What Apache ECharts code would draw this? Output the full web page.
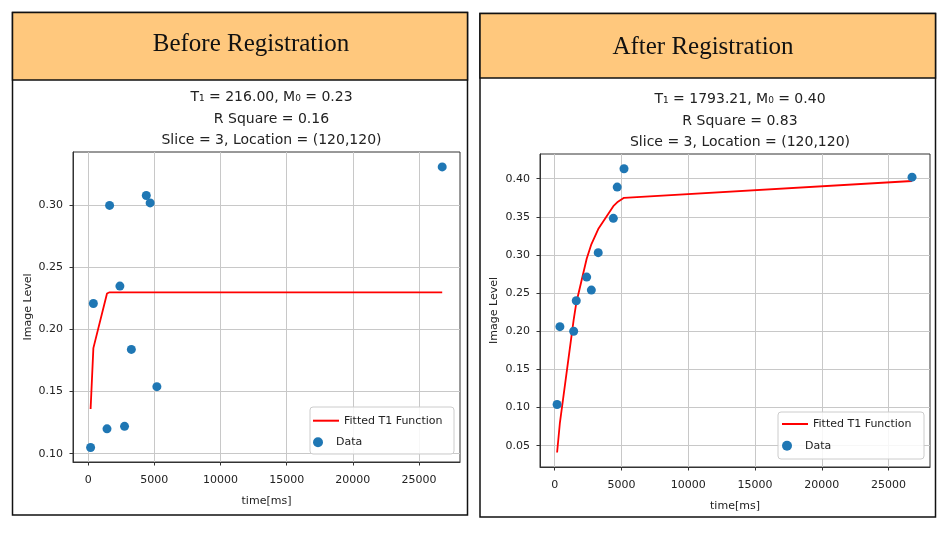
<!DOCTYPE html>
<html>
<head>
<meta charset="utf-8">
<script src="https://cdn.jsdelivr.net/npm/echarts@6/dist/echarts.min.js"></script>
<style>html,body{margin:0;padding:0;background:#fff}#c{width:950px;height:536px}</style>
</head>
<body>
<div id="c"></div>
<script>
// ---- data ----
const timesMs = [180, 390, 1420, 1615, 2395, 2745, 3260, 4390, 4680, 5190, 26755];
const beforeData = [0.105, 0.221, 0.120, 0.300, 0.235, 0.122, 0.184, 0.308, 0.302, 0.154, 0.331];
const beforeFit  = [0.136, 0.185, 0.229, 0.230, 0.230, 0.230, 0.230, 0.230, 0.230, 0.230, 0.230];
const afterData  = [0.104, 0.206, 0.200, 0.240, 0.271, 0.254, 0.303, 0.348, 0.389, 0.413, 0.402];
const afterFit   = [0.041, 0.080, 0.215, 0.237, 0.295, 0.314, 0.334, 0.364, 0.369, 0.375, 0.397];
const xTicks = [0, 5000, 10000, 15000, 20000, 25000];
const yTicksBefore = [0.10, 0.15, 0.20, 0.25, 0.30];
const yTicksAfter = [0.05, 0.10, 0.15, 0.20, 0.25, 0.30, 0.35, 0.40];
const panelTitles = ['Before Registration', 'After Registration'];
const chartTitles = [
  'T\u2081 = 216.00, M\u2080 = 0.23\nR Square = 0.16\nSlice = 3, Location = (120,120)',
  'T\u2081 = 1793.21, M\u2080 = 0.40\nR Square = 0.83\nSlice = 3, Location = (120,120)'
];
const legendNames = ['Fitted T1 Function', 'Data'];

const pair = (xs, ys) => xs.map((x, i) => [x, ys[i]]);
const FONT = '"DejaVu Sans", sans-serif';
const TXT = '#222';

function xAxis(gi, min, max) {
  return {
    type: 'value', gridIndex: gi, min: min, max: max, splitNumber: 5,
    name: 'time[ms]', nameLocation: 'middle', nameGap: 34,
    nameTextStyle: { fontFamily: FONT, fontSize: 11, color: TXT },
    axisLine: { show: true, onZero: false, lineStyle: { color: '#333', width: 1 } },
    axisTick: { show: true, length: 3.5, lineStyle: { color: '#333' }, customValues: xTicks },
    axisLabel: { customValues: xTicks, margin: 13, fontFamily: FONT, fontSize: 11, color: TXT,
      formatter: v => String(v) },
    splitLine: { show: true, lineStyle: { color: '#c8c8c8', width: 1 } }
  };
}
function yAxis(gi, min, max, ticks, split, gap) {
  return {
    type: 'value', gridIndex: gi, min: min, max: max, splitNumber: split,
    name: 'Image Level', nameLocation: 'middle', nameGap: gap,
    nameTextStyle: { fontFamily: FONT, fontSize: 11, color: TXT },
    axisLine: { show: true, onZero: false, lineStyle: { color: '#333', width: 1 } },
    axisTick: { show: true, length: 3.5, lineStyle: { color: '#333' }, customValues: ticks },
    axisLabel: { customValues: ticks, margin: 10, fontFamily: FONT, fontSize: 11, color: TXT,
      formatter: v => v.toFixed(2) },
    splitLine: { show: true, lineStyle: { color: '#c8c8c8', width: 1 } }
  };
}
function legendItem(name, icon, h, left, cy) {
  return {
    data: [{ name: name, icon: icon }], orient: 'vertical', left: left, top: cy - 7,
    itemWidth: 26, itemHeight: h, padding: 0, selectedMode: false, z: 10,
    textStyle: { fontFamily: FONT, fontSize: 11, color: TXT, lineHeight: 14 }
  };
}

const chart = echarts.init(document.getElementById('c'), null, { renderer: 'canvas' });
chart.setOption({
  animation: false,
  backgroundColor: '#fff',
  graphic: [
    { type: 'rect', z: -1, shape: { x: 12.5, y: 12.5, width: 455, height: 502.5 },
      style: { fill: '#fff', stroke: '#111', lineWidth: 1.5 } },
    { type: 'rect', z: 0, shape: { x: 12.5, y: 12.5, width: 455, height: 67.5 },
      style: { fill: '#FFC87D', stroke: '#111', lineWidth: 1.5 } },
    { type: 'text', z: 1, style: { x: 251, y: 44, text: panelTitles[0], fill: '#111',
      font: '25px "Liberation Serif", serif', align: 'center', verticalAlign: 'middle' } },
    { type: 'rect', z: -1, shape: { x: 480, y: 13.5, width: 455.5, height: 503.5 },
      style: { fill: '#fff', stroke: '#111', lineWidth: 1.5 } },
    { type: 'rect', z: 0, shape: { x: 480, y: 13.5, width: 455.5, height: 64.5 },
      style: { fill: '#FFC87D', stroke: '#111', lineWidth: 1.5 } },
    { type: 'text', z: 1, style: { x: 703, y: 47, text: panelTitles[1], fill: '#111',
      font: '25px "Liberation Serif", serif', align: 'center', verticalAlign: 'middle' } },
    // legend frames
    { type: 'rect', z: 5, shape: { x: 310, y: 407, width: 144, height: 47, r: 3 },
      style: { fill: 'rgba(255,255,255,0.85)', stroke: '#cccccc', lineWidth: 1 } },
    { type: 'rect', z: 5, shape: { x: 778, y: 412, width: 146, height: 47, r: 3 },
      style: { fill: 'rgba(255,255,255,0.85)', stroke: '#cccccc', lineWidth: 1 } }
  ],
  title: [
    { text: chartTitles[0], left: 266.5, top: 81.5, textAlign: 'center',
      textStyle: { fontFamily: FONT, fontSize: 14, fontWeight: 'normal', color: TXT, lineHeight: 21.7 } },
    { text: chartTitles[1], left: 735, top: 83.5, textAlign: 'center',
      textStyle: { fontFamily: FONT, fontSize: 14, fontWeight: 'normal', color: TXT, lineHeight: 21.7 } }
  ],
  grid: [
    { left: 73, top: 152, width: 387, height: 310, show: true, borderColor: '#333', borderWidth: 1, backgroundColor: '#fff' },
    { left: 540, top: 154, width: 390, height: 313, show: true, borderColor: '#333', borderWidth: 1, backgroundColor: '#fff' }
  ],
  xAxis: [xAxis(0, -1150, 28100), xAxis(1, -1100, 28100)],
  yAxis: [yAxis(0, 0.0933, 0.343, yTicksBefore, 5, 39), yAxis(1, 0.022, 0.4324, yTicksAfter, 8, 40)],
  legend: [
    legendItem(legendNames[0], 'rect', 2, 313, 420.7),
    legendItem(legendNames[1], 'circle', 10, 313, 442.3),
    legendItem(legendNames[0], 'rect', 2, 782, 424),
    legendItem(legendNames[1], 'circle', 10, 782, 445.7)
  ],
  series: [
    { name: legendNames[0], type: 'line', xAxisIndex: 0, yAxisIndex: 0, data: pair(timesMs, beforeFit),
      symbol: 'none', lineStyle: { color: '#ff0000', width: 1.8 }, itemStyle: { color: '#ff0000' }, z: 2 },
    { name: legendNames[1], type: 'scatter', xAxisIndex: 0, yAxisIndex: 0, data: pair(timesMs, beforeData),
      symbol: 'circle', symbolSize: 9, itemStyle: { color: '#1f77b4', opacity: 1 }, z: 3 },
    { name: legendNames[0], type: 'line', xAxisIndex: 1, yAxisIndex: 1, data: pair(timesMs, afterFit),
      symbol: 'none', lineStyle: { color: '#ff0000', width: 1.8 }, itemStyle: { color: '#ff0000' }, z: 2 },
    { name: legendNames[1], type: 'scatter', xAxisIndex: 1, yAxisIndex: 1, data: pair(timesMs, afterData),
      symbol: 'circle', symbolSize: 9, itemStyle: { color: '#1f77b4', opacity: 1 }, z: 3 }
  ]
});
</script>
</body>
</html>
